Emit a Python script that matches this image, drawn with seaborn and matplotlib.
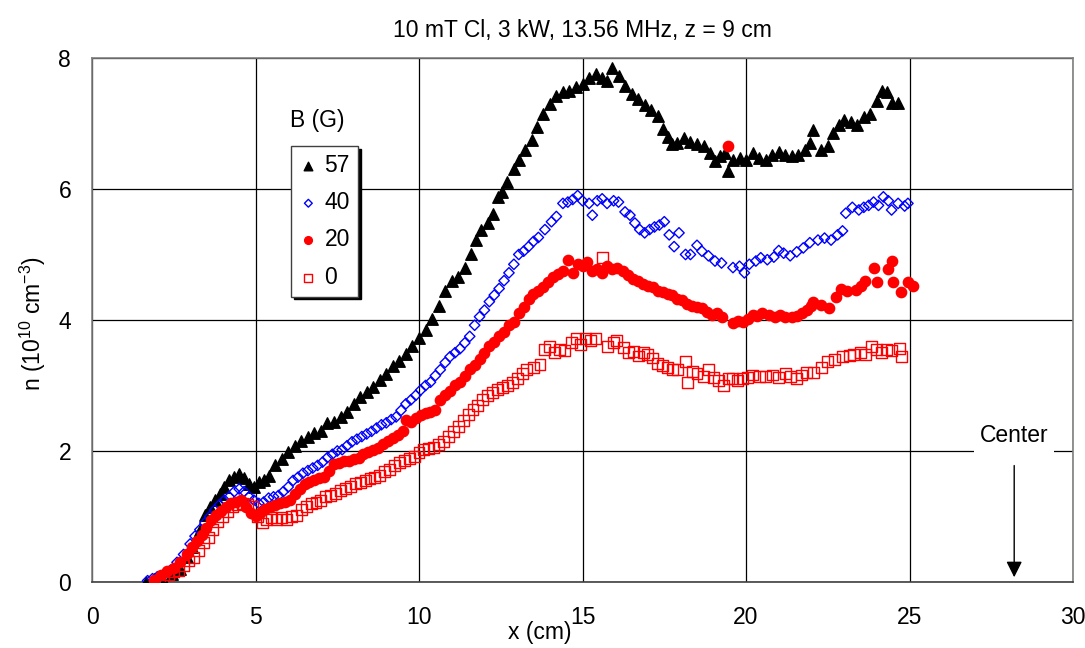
import matplotlib
matplotlib.use("Agg")
import matplotlib.pyplot as plt
import seaborn as sns
import pandas as pd

# ---- data ----
x57 = [1.65, 1.9, 2.2, 2.45, 2.7, 2.9, 3.05, 3.2, 3.3, 3.45, 3.6, 3.75, 3.9, 4.05, 4.2, 4.35, 4.5, 4.65, 4.8, 4.95,
       5.1, 5.25, 5.4, 5.6, 5.8, 6.0, 6.2, 6.4, 6.6, 6.8, 7.0, 7.2, 7.4, 7.6, 7.8, 8.0, 8.2, 8.4, 8.6, 8.8,
       9.0, 9.2, 9.4, 9.6, 9.8, 10.0, 10.2, 10.4, 10.6, 10.8, 11.0, 11.2, 11.4, 11.6, 11.75, 11.9, 12.1, 12.25, 12.4, 12.55,
       12.7, 12.9, 13.05, 13.25, 13.45, 13.6, 13.8, 14.0, 14.2, 14.4, 14.6, 14.8, 15.0, 15.2, 15.4, 15.6, 15.75, 15.9, 16.1, 16.3,
       16.5, 16.7, 16.9, 17.1, 17.3, 17.45, 17.6, 17.75, 17.9, 18.1, 18.3, 18.5, 18.7, 18.9, 19.05, 19.2, 19.35, 19.45, 19.6, 19.8,
       20.0, 20.2, 20.4, 20.6, 20.8, 21.0, 21.2, 21.4, 21.6, 21.8, 21.95, 22.05, 22.3, 22.5, 22.65, 22.85, 23.0, 23.2, 23.4, 23.6,
       23.8, 24.0, 24.15, 24.3, 24.45, 24.65]
n57 = [0.00, 0.05, 0.00, 0.12, 0.2, 0.38, 0.53, 0.68, 0.8, 1.02, 1.15, 1.25, 1.35, 1.45, 1.55, 1.6, 1.65, 1.58, 1.5, 1.45,
       1.52, 1.55, 1.62, 1.78, 1.88, 1.98, 2.08, 2.15, 2.22, 2.28, 2.3, 2.42, 2.45, 2.52, 2.6, 2.72, 2.82, 2.9, 2.98, 3.08,
       3.18, 3.3, 3.38, 3.48, 3.6, 3.72, 3.85, 4.02, 4.22, 4.45, 4.6, 4.65, 4.8, 5.0, 5.22, 5.38, 5.48, 5.62, 5.88, 5.95,
       6.1, 6.3, 6.45, 6.6, 6.75, 6.95, 7.15, 7.3, 7.42, 7.48, 7.5, 7.55, 7.6, 7.7, 7.75, 7.7, 7.65, 7.85, 7.72, 7.58,
       7.45, 7.38, 7.28, 7.2, 7.12, 6.92, 6.8, 6.68, 6.7, 6.78, 6.72, 6.68, 6.66, 6.55, 6.42, 6.5, 6.55, 6.28, 6.45, 6.48,
       6.45, 6.55, 6.48, 6.45, 6.52, 6.56, 6.52, 6.5, 6.52, 6.6, 6.7, 6.9, 6.6, 6.65, 6.85, 6.98, 7.05, 7.02, 6.98, 7.1,
       7.15, 7.35, 7.5, 7.48, 7.32, 7.32]

x40 = [1.7, 1.85, 2.0, 2.2, 2.4, 2.6, 2.8, 3.0, 3.15, 3.3, 3.45, 3.6, 3.75, 3.9, 4.05, 4.2, 4.35, 4.5, 4.65, 4.8,
       4.95, 5.1, 5.25, 5.4, 5.55, 5.7, 5.85, 6.0, 6.15, 6.3, 6.45, 6.6, 6.75, 6.9, 7.05, 7.2, 7.35, 7.5, 7.65, 7.8,
       7.95, 8.1, 8.25, 8.4, 8.55, 8.7, 8.85, 9.0, 9.15, 9.3, 9.45, 9.6, 9.75, 9.9, 10.05, 10.2, 10.35, 10.5, 10.65, 10.8,
       10.95, 11.1, 11.25, 11.4, 11.55, 11.7, 11.85, 12.0, 12.15, 12.3, 12.45, 12.6, 12.75, 12.9, 13.05, 13.2, 13.35, 13.5, 13.65, 13.85,
       14.05, 14.2, 14.4, 14.55, 14.7, 14.85, 15.0, 15.2, 15.3, 15.45, 15.6, 15.75, 15.95, 16.1, 16.3, 16.45, 16.6, 16.75, 16.9, 17.05,
       17.2, 17.35, 17.5, 17.65, 17.8, 17.95, 18.15, 18.3, 18.5, 18.65, 18.85, 19.05, 19.25, 19.6, 19.8, 19.95, 20.1, 20.3, 20.45, 20.65,
       20.85, 21.0, 21.15, 21.35, 21.55, 21.75, 21.95, 22.2, 22.4, 22.6, 22.8, 22.95, 23.05, 23.25, 23.45, 23.6, 23.75, 23.9, 24.05, 24.2,
       24.35, 24.45, 24.65, 24.85, 24.95]
n40 = [0.02, 0.05, 0.08, 0.12, 0.18, 0.3, 0.42, 0.58, 0.7, 0.8, 0.9, 1.0, 1.1, 1.18, 1.25, 1.3, 1.38, 1.42, 1.38, 1.3,
       1.25, 1.2, 1.22, 1.28, 1.3, 1.32, 1.38, 1.45, 1.55, 1.6, 1.66, 1.7, 1.74, 1.78, 1.83, 1.9, 1.95, 2.0, 2.02, 2.08,
       2.14, 2.18, 2.22, 2.26, 2.3, 2.35, 2.4, 2.43, 2.48, 2.52, 2.62, 2.72, 2.78, 2.85, 2.93, 3.0, 3.05, 3.15, 3.24, 3.35,
       3.44, 3.5, 3.56, 3.65, 3.75, 3.92, 4.05, 4.15, 4.28, 4.38, 4.48, 4.6, 4.72, 4.85, 5.0, 5.05, 5.12, 5.2, 5.26, 5.38,
       5.5, 5.58, 5.78, 5.8, 5.84, 5.9, 5.82, 5.78, 5.6, 5.82, 5.85, 5.78, 5.82, 5.8, 5.65, 5.6, 5.48, 5.38, 5.33, 5.38,
       5.42, 5.45, 5.5, 5.3, 5.12, 5.33, 5.0, 5.0, 5.14, 5.05, 4.98, 4.9, 4.87, 4.8, 4.82, 4.72, 4.85, 4.9, 4.95, 4.92,
       4.96, 5.06, 5.02, 4.98, 5.04, 5.1, 5.18, 5.22, 5.25, 5.22, 5.3, 5.36, 5.63, 5.72, 5.68, 5.72, 5.75, 5.8, 5.75, 5.88,
       5.82, 5.68, 5.78, 5.74, 5.78]

x20 = [1.9, 2.1, 2.3, 2.5, 2.7, 2.9, 3.05, 3.2, 3.35, 3.5, 3.65, 3.8, 3.95, 4.1, 4.25, 4.4, 4.55, 4.7, 4.85, 5.0,
       5.15, 5.3, 5.45, 5.6, 5.75, 5.9, 6.05, 6.2, 6.35, 6.5, 6.65, 6.8, 6.95, 7.1, 7.25, 7.4, 7.55, 7.7, 7.85, 8.0,
       8.15, 8.3, 8.45, 8.6, 8.75, 8.9, 9.05, 9.2, 9.35, 9.5, 9.6, 9.75, 9.9, 10.05, 10.2, 10.35, 10.5, 10.65, 10.8, 10.95,
       11.1, 11.25, 11.4, 11.55, 11.7, 11.85, 12.0, 12.15, 12.3, 12.45, 12.6, 12.75, 12.9, 13.05, 13.2, 13.35, 13.5, 13.65, 13.8, 13.95,
       14.1, 14.25, 14.4, 14.55, 14.7, 14.85, 15.0, 15.15, 15.3, 15.45, 15.6, 15.75, 15.9, 16.05, 16.25, 16.4, 16.55, 16.7, 16.85, 17.0,
       17.15, 17.3, 17.45, 17.6, 17.75, 17.9, 18.05, 18.2, 18.35, 18.5, 18.65, 18.8, 18.95, 19.1, 19.25, 19.45, 19.6, 19.75, 19.9, 20.05,
       20.2, 20.35, 20.5, 20.7, 20.9, 21.05, 21.2, 21.4, 21.55, 21.7, 21.85, 22.0, 22.05, 22.3, 22.55, 22.75, 22.9, 23.1, 23.35, 23.5,
       23.65, 23.9, 24.0, 24.35, 24.45, 24.5, 24.75, 24.95, 25.1]
n20 = [0.03, 0.1, 0.16, 0.22, 0.3, 0.42, 0.53, 0.62, 0.72, 0.82, 0.95, 1.02, 1.08, 1.15, 1.2, 1.22, 1.25, 1.15, 1.05, 1.0,
       1.05, 1.12, 1.15, 1.18, 1.2, 1.22, 1.25, 1.35, 1.42, 1.5, 1.52, 1.55, 1.58, 1.6, 1.7, 1.8, 1.82, 1.84, 1.85, 1.88,
       1.9, 1.95, 1.98, 2.02, 2.05, 2.1, 2.15, 2.2, 2.25, 2.3, 2.47, 2.45, 2.5, 2.55, 2.58, 2.6, 2.63, 2.78, 2.85, 2.92,
       3.0, 3.06, 3.15, 3.25, 3.32, 3.4, 3.5, 3.6, 3.67, 3.75, 3.82, 3.92, 3.97, 4.1, 4.2, 4.32, 4.4, 4.45, 4.5, 4.58,
       4.65, 4.7, 4.75, 4.92, 4.72, 4.85, 4.82, 4.88, 4.75, 4.78, 4.72, 4.82, 4.78, 4.8, 4.75, 4.68, 4.62, 4.6, 4.55, 4.52,
       4.5, 4.45, 4.42, 4.4, 4.38, 4.32, 4.3, 4.25, 4.22, 4.2, 4.18, 4.12, 4.08, 4.1, 4.05, 6.66, 3.95, 3.98, 3.97, 4.02,
       4.08, 4.06, 4.1, 4.08, 4.05, 4.08, 4.04, 4.04, 4.06, 4.1, 4.15, 4.22, 4.28, 4.23, 4.18, 4.35, 4.48, 4.45, 4.46, 4.52,
       4.6, 4.8, 4.58, 4.78, 4.9, 4.58, 4.42, 4.58, 4.52]

x0 = [2.05, 2.2, 2.35, 2.5, 2.65, 2.8, 2.95, 3.1, 3.25, 3.4, 3.55, 3.7, 3.85, 4.0, 4.15, 4.3, 4.45, 4.6, 4.75, 4.9,
      5.05, 5.2, 5.35, 5.5, 5.65, 5.8, 5.95, 6.1, 6.25, 6.4, 6.55, 6.7, 6.85, 7.0, 7.15, 7.3, 7.45, 7.6, 7.75, 7.9,
      8.05, 8.2, 8.35, 8.5, 8.65, 8.8, 8.95, 9.1, 9.25, 9.4, 9.55, 9.7, 9.85, 10.0, 10.15, 10.3, 10.45, 10.6, 10.75, 10.9,
      11.05, 11.2, 11.35, 11.5, 11.65, 11.8, 11.95, 12.1, 12.25, 12.4, 12.55, 12.7, 12.85, 13.0, 13.15, 13.3, 13.5, 13.7, 13.85, 14.0,
      14.15, 14.3, 14.45, 14.65, 14.8, 14.95, 15.1, 15.25, 15.4, 15.6, 15.75, 15.95, 16.05, 16.25, 16.4, 16.55, 16.7, 16.85, 17.0, 17.15,
      17.3, 17.45, 17.6, 17.75, 17.9, 18.15, 18.2, 18.35, 18.5, 18.7, 18.85, 19.0, 19.15, 19.3, 19.45, 19.6, 19.75, 19.9, 20.05, 20.2,
      20.4, 20.6, 20.8, 21.0, 21.2, 21.35, 21.55, 21.7, 21.85, 22.05, 22.3, 22.5, 22.7, 22.95, 23.15, 23.3, 23.5, 23.65, 23.85, 24.0,
      24.15, 24.3, 24.45, 24.7, 24.75]
n0 = [0.0, 0.05, 0.12, 0.16, 0.18, 0.25, 0.32, 0.38, 0.48, 0.6, 0.68, 0.8, 0.92, 1.0, 1.08, 1.15, 1.18, 1.2, 1.18, 1.15,
      1.0, 0.9, 0.95, 0.98, 0.95, 0.98, 0.95, 1.0, 1.02, 1.1, 1.15, 1.2, 1.22, 1.25, 1.3, 1.32, 1.35, 1.4, 1.42, 1.46,
      1.5, 1.52, 1.55, 1.58, 1.6, 1.63, 1.68, 1.72, 1.78, 1.82, 1.86, 1.88, 1.92, 1.98, 2.02, 2.04, 2.06, 2.1, 2.15, 2.22,
      2.3, 2.38, 2.46, 2.55, 2.63, 2.7, 2.78, 2.84, 2.89, 2.94, 2.97, 3.0, 3.05, 3.1, 3.18, 3.24, 3.28, 3.32, 3.55, 3.6,
      3.5, 3.55, 3.54, 3.65, 3.72, 3.62, 3.72, 3.68, 3.72, 4.95, 3.6, 3.66, 3.69, 3.58, 3.5, 3.52, 3.45, 3.5, 3.48, 3.42,
      3.34, 3.3, 3.28, 3.25, 3.24, 3.36, 3.04, 3.22, 3.19, 3.14, 3.24, 3.12, 3.08, 3.0, 3.1, 3.11, 3.08, 3.11, 3.12, 3.16,
      3.14, 3.13, 3.16, 3.12, 3.19, 3.14, 3.11, 3.16, 3.2, 3.2, 3.27, 3.36, 3.4, 3.44, 3.46, 3.47, 3.5, 3.48, 3.59, 3.55,
      3.5, 3.55, 3.54, 3.57, 3.44]

field_labels = ["57", "40", "20", "0"]
x_ticks = [0, 5, 10, 15, 20, 25, 30]
y_ticks = [0, 2, 4, 6, 8]
title_text = "10 mT Cl, 3 kW, 13.56 MHz, z = 9 cm"
center_x = 28.2

# ---- figure ----
sns.set_theme(style="white")
plt.rcParams["font.family"] = ["Liberation Sans", "DejaVu Sans"]
plt.rcParams["mathtext.default"] = "regular"
for key in ["text.color", "axes.labelcolor", "xtick.color", "ytick.color"]:
    plt.rcParams[key] = "black"

FS = 16.5

fig = plt.figure(figsize=(10.85, 6.48), dpi=100)
ax = fig.add_axes([0.0848, 0.1019, 0.9042, 0.8086])

styles = [
    (x57, n57, "^", "black", "black", 68),
    (x40, n40, "D", "none", "#0000ff", 28),
    (x20, n20, "o", "#ff0000", "#ff0000", 55),
    (x0, n0, "s", "none", "#ff0000", 62),
]
for (xs, ys, mk, fc, ec, s), lab in zip(styles, field_labels):
    df = pd.DataFrame({"x": xs, "n": ys})
    sns.scatterplot(data=df, x="x", y="n", ax=ax, marker=mk, s=s,
                    facecolor=fc, edgecolor=ec, linewidth=1.0,
                    label=lab, legend=False, zorder=3)

ax.set_xlim(0, 30)
ax.set_ylim(0, 8)
ax.set_xticks(x_ticks)
ax.set_yticks(y_ticks)
ax.set_xticklabels([str(t) for t in x_ticks], fontsize=FS)
ax.set_yticklabels([str(t) for t in y_ticks], fontsize=FS)
ax.grid(True, color="black", linewidth=0.9)
ax.set_axisbelow(True)
for sp in ax.spines.values():
    sp.set_color("#808080")
    sp.set_linewidth(1.2)
ax.spines["bottom"].set_color("#404040")
ax.tick_params(axis="both", direction="in", length=4, color="#808080")
ax.tick_params(axis="x", pad=17)
ax.tick_params(axis="y", pad=15)

ax.set_xlabel("")
ax.set_ylabel("")
fig.text(540 / 1085, 1 - 633 / 648, "x (cm)", ha="center", va="center", fontsize=FS)
fig.text(33 / 1085, 0.5, r"n (10$^{10}$ cm$^{-3}$)", ha="center", va="center",
         rotation=90, fontsize=FS)
fig.text(0.5366, 1 - 30 / 648, title_text, ha="center", va="center", fontsize=FS)

# legend
handles, labels = ax.get_legend_handles_labels()
leg = ax.legend(handles, labels, loc="upper left", bbox_to_anchor=(0.203, 0.832),
                frameon=True, fancybox=False, shadow={"color": "black", "alpha": 1.0},
                fontsize=FS, handletextpad=0.3, borderpad=0.35, labelspacing=0.62,
                handlelength=0.8, borderaxespad=0.0, markerscale=0.75)
leg.get_frame().set_edgecolor("#404040")
leg.get_frame().set_linewidth(1.0)
leg.get_frame().set_alpha(1.0)
ax.text(6.88, 7.05, "B (G)", ha="center", va="center", fontsize=FS)

# Center annotation
ax.text(center_x, 2.23, "Center", ha="center", va="center", fontsize=FS,
        bbox=dict(facecolor="white", edgecolor="none", pad=4), zorder=4)
ax.annotate("", xy=(center_x, 0.03), xytext=(center_x, 1.82),
            arrowprops=dict(arrowstyle="-|>", color="black", lw=1.0,
                            mutation_scale=24), zorder=4)

fig.savefig("out.png", dpi=100, facecolor="white")
